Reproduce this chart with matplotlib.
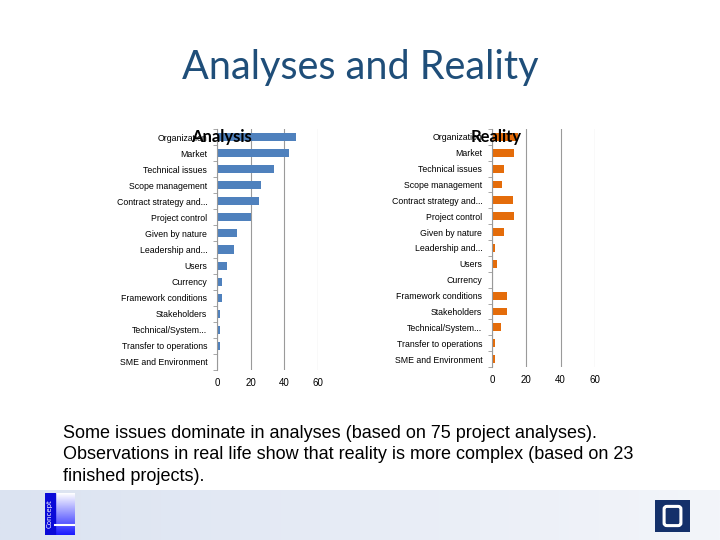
import numpy as np
import matplotlib.pyplot as plt
from matplotlib.patches import Rectangle, FancyBboxPatch

categories = ["Organization", "Market", "Technical issues", "Scope management",
              "Contract strategy and...", "Project control", "Given by nature",
              "Leadership and...", "Users", "Currency", "Framework conditions",
              "Stakeholders", "Technical/System...", "Transfer to operations",
              "SME and Environment"]
analysis = [47, 43, 34, 26, 25, 20, 12, 10, 6, 3, 3, 2, 2, 1.5, 0]
reality = [15, 13, 7, 6, 12, 13, 7, 2, 3, 0, 9, 9, 5.5, 2, 2]
xticks = [0, 20, 40, 60]

fig = plt.figure(figsize=(7.2, 5.4), dpi=100)
fig.patch.set_facecolor("white")

# footer band with gradient
band = fig.add_axes([0, 0, 1, 50 / 540])
grad = np.linspace(0, 1, 256).reshape(1, -1)
band.imshow(grad, aspect="auto", cmap=plt.matplotlib.colors.LinearSegmentedColormap.from_list(
    "band", ["#dbe3f1", "#f3f5fa"]), extent=[0, 1, 0, 1])
band.set_xlim(0, 1)
band.set_ylim(0, 1)
band.axis("off")

# left logo
logo = fig.add_axes([45 / 720, 5 / 540, 30 / 720, 42 / 540])
lg = np.linspace(0, 1, 100).reshape(-1, 1)
logo.imshow(lg, aspect="auto", cmap=plt.matplotlib.colors.LinearSegmentedColormap.from_list(
    "lg", ["#1a1aff", "#ffffff"]), extent=[0, 1, 0, 1], origin="lower")
logo.add_patch(Rectangle((0, 0), 0.33, 1, color="#0a0ad8"))
logo.plot([0.33, 1], [0.25, 0.25], color="white", lw=1.5)
logo.text(0.16, 0.5, "Concept", rotation=90, color="white", fontsize=5,
          ha="center", va="center", family="DejaVu Sans")
logo.set_xlim(0, 1)
logo.set_ylim(0, 1)
logo.axis("off")

# right logo
rl = fig.add_axes([655 / 720, 8 / 540, 35 / 720, 32 / 540])
rl.add_patch(Rectangle((0, 0), 1, 1, color="#14306a"))
rl.add_patch(FancyBboxPatch((0.28, 0.22), 0.44, 0.56, boxstyle="round,pad=0.02,rounding_size=0.08",
                            fc="#14306a", ec="white", lw=2.2))
rl.set_xlim(0, 1)
rl.set_ylim(0, 1)
rl.axis("off")

fig.text(0.5, 1 - 68 / 540, "Analyses and Reality", ha="center", va="center",
         fontsize=28.5, color="#1f4e79", family="Lato")

fig.text(63 / 720, 1 - 425 / 540,
         "Some issues dominate in analyses (based on 75 project analyses).\n"
         "Observations in real life show that reality is more complex (based on 23\n"
         "finished projects).",
         ha="left", va="top", fontsize=13, color="black", family="Liberation Sans",
         linespacing=1.33)


def draw_panel(rect, values, color, title, title_x):
    ax = fig.add_axes(rect)
    y = np.arange(len(categories))
    ax.barh(y, values, height=0.5, color=color, zorder=3)
    ax.set_ylim(len(categories) - 0.5, -0.5)
    ax.set_xlim(0, 60)
    ax.set_xticks(xticks)
    ax.set_yticks(y)
    ax.set_yticklabels(categories, fontsize=6.3, family="Liberation Sans")
    ax.set_yticks(np.arange(len(categories) + 1) - 0.5, minor=True)
    ax.tick_params(axis="y", which="major", length=0, pad=7)
    ax.tick_params(axis="y", which="minor", length=3, color="#999999")
    ax.tick_params(axis="x", length=0, labelsize=7, pad=6)
    for lab in ax.get_xticklabels():
        lab.set_family("Liberation Sans")
    ax.grid(axis="x", color="#9a9a9a", lw=0.8, zorder=0)
    for s in ["top", "right", "bottom"]:
        ax.spines[s].set_visible(False)
    ax.spines["left"].set_color("#999999")
    ax.spines["left"].set_zorder(4)
    fig.text(title_x / 720, 1 - 137 / 540, title, ha="center", va="center",
             fontsize=12, fontweight="bold", family="Lato", zorder=10)
    return ax


draw_panel([217 / 720, 1 - 370 / 540, 101 / 720, 241 / 540], analysis, "#4f81bd", "Analysis", 221)
draw_panel([492 / 720, 1 - 367 / 540, 103 / 720, 238 / 540], reality, "#e46c0a", "Reality", 496)

fig.savefig("out.png", dpi=100)
